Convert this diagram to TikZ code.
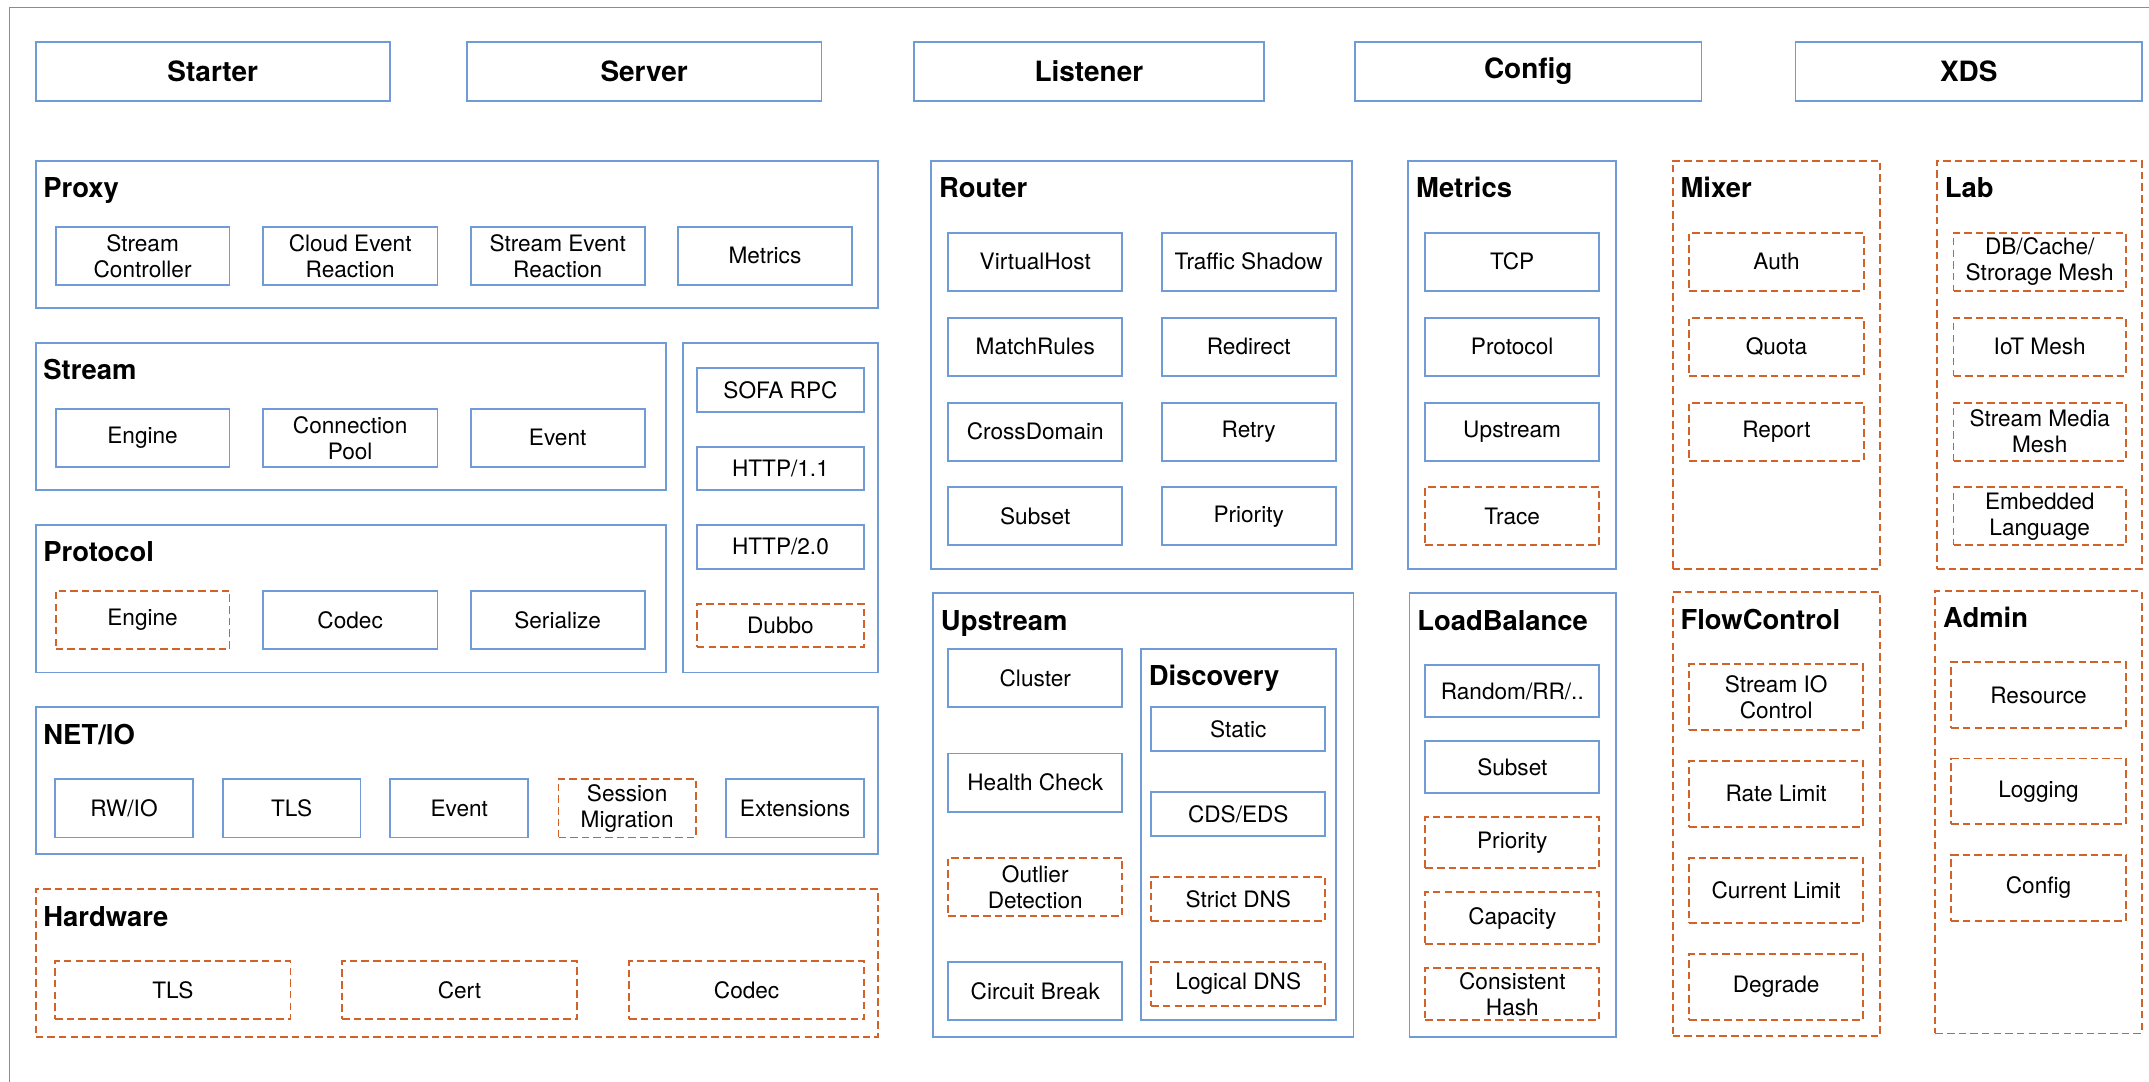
\documentclass[tikz,border=0pt]{standalone}
\usepackage{fontspec}
\setmainfont{TeX Gyre Heros}
\definecolor{boxblue}{HTML}{6F9BD6}
\definecolor{planorange}{HTML}{D0622A}
\definecolor{framegray}{HTML}{8C8C8C}
\tikzset{
  solidline/.style={draw=boxblue, line width=1.3pt},
  plannedline/.style={draw=planorange, line width=1.3pt, dash pattern=on 5.5pt off 3pt},
  cellbox/.style={solidline, inner sep=0pt, align=center,
    font=\fontsize{16.5}{19}\selectfont},
  planned/.style={plannedline},
  headbox/.style={cellbox, font=\fontsize{20.4}{24}\selectfont\bfseries},
  panelbox/.style={solidline, inner sep=0pt},
  paneltitle/.style={inner sep=0pt, anchor=base west,
    font=\fontsize{20}{24}\selectfont\bfseries},
}
% \cell[style]{name}{x1}{y1}{x2}{y2}{text}
\newcommand{\cell}[7][]{%
  \node[cellbox,#1,minimum width={(#5-#3)*1pt},minimum height={(#6-#4)*1pt}]
    (#2) at ({(#3+#5)/2},{(#4+#6)/2}) {#7};}
% \panel[style]{name}{x1}{y1}{x2}{y2}{title}
\newcommand{\panel}[7][]{%
  \node[panelbox,#1,minimum width={(#5-#3)*1pt},minimum height={(#6-#4)*1pt}]
    (#2) at ({(#3+#5)/2},{(#4+#6)/2}) {};
  \node[paneltitle] (#2-title) at ({#3+5.5},{#4+27}) {#7};}
\begin{document}
\begin{tikzpicture}[x=1pt,y=-1pt]
\useasboundingbox (0,0) rectangle (1568,789.4);
\fill[white] (0,0) rectangle (1568,789.4);
% page frame
\draw[framegray, line width=1pt] (7,789.4) -- (7,5.4) -- (1568,5.4);

% top row
\cell[headbox]{starter}{26}{30.9}{284.4}{73.5}{Starter}
\cell[headbox]{server}{340.5}{30.9}{599.4}{73.5}{Server}
\cell[headbox]{listener}{667}{30.9}{922}{73.5}{Listener}
\cell[headbox]{config}{988.7}{30.9}{1241.5}{73.5}{Config}
\cell[headbox]{xds}{1310}{30.9}{1563}{73.5}{XDS}

% Proxy
\panel{proxy}{26}{117.2}{640.8}{224.7}{Proxy}
\cell{px1}{40.6}{165.4}{167.5}{208}{Stream\\Controller}
\cell{px2}{191.8}{165.4}{319.2}{208}{Cloud Event\\Reaction}
\cell{px3}{343.4}{165.4}{470.4}{208}{Stream Event\\Reaction}
\cell{px4}{494.7}{165.4}{621.6}{208}{Metrics}

% Stream
\panel{stream}{26}{250}{485.9}{357.5}{Stream}
\cell{st1}{40.6}{298.2}{167.5}{340.7}{Engine}
\cell{st2}{191.8}{298.2}{319.2}{340.7}{Connection\\Pool}
\cell{st3}{343.4}{298.2}{470.4}{340.7}{Event}

% Protocol
\panel{protocol}{26}{383}{485.9}{490.6}{Protocol}
\cell[planned]{pr1}{40.6}{431}{167.5}{473.8}{Engine}
\cell{pr2}{191.8}{431}{319.2}{473.8}{Codec}
\cell{pr3}{343.4}{431}{470.4}{473.8}{Serialize}

% protocol implementations
\node[panelbox,minimum width=142.4pt,minimum height=240.6pt] (impl) at (569.6,370.3) {};
\cell{im1}{508.5}{268.7}{630.4}{300.6}{SOFA RPC}
\cell{im2}{508.5}{325.9}{630.4}{357.8}{HTTP/1.1}
\cell{im3}{508.5}{383}{630.4}{415}{HTTP/2.0}
\cell[planned]{im4}{508.5}{440.5}{630.4}{472.3}{Dubbo}

% NET/IO
\panel{netio}{26}{516}{640.8}{623.3}{NET/IO}
\cell{ni1}{40.2}{568.4}{140.7}{611}{RW/IO}
\cell{ni2}{162.5}{568.4}{263}{611}{TLS}
\cell{ni3}{284.8}{568.4}{385.4}{611}{Event}
\cell[planned]{ni4}{407.5}{568.4}{507.7}{611}{Session\\Migration}
\cell{ni5}{529.9}{568.4}{630.4}{611}{Extensions}

% Hardware
\panel[plannedline]{hardware}{26}{648.9}{640.8}{756.4}{Hardware}
\cell[planned]{hw1}{40.2}{701.4}{212}{743.7}{TLS}
\cell[planned]{hw2}{249.6}{701.4}{421}{743.7}{Cert}
\cell[planned]{hw3}{459.1}{701.4}{630.4}{743.7}{Codec}

% Router
\panel{router}{679.5}{117.2}{986.6}{415}{Router}
\cell{ro1}{691.8}{169.8}{818.9}{212.1}{VirtualHost}
\cell{ro2}{691.8}{231.8}{818.9}{274.1}{MatchRules}
\cell{ro3}{691.8}{293.8}{818.9}{336.1}{CrossDomain}
\cell{ro4}{691.8}{355.6}{818.9}{397.9}{Subset}
\cell{ro5}{847.6}{169.8}{974.6}{212.1}{Traffic Shadow}
\cell{ro6}{847.6}{231.8}{974.6}{274.1}{Redirect}
\cell{ro7}{847.6}{293.8}{974.6}{336.1}{Retry}
\cell{ro8}{847.6}{355.6}{974.6}{397.9}{Priority}

% Metrics
\panel{metrics}{1027.6}{117.2}{1178.9}{415}{Metrics}
\cell{me1}{1039.7}{169.8}{1166.9}{212.1}{TCP}
\cell{me2}{1039.7}{231.8}{1166.9}{274.1}{Protocol}
\cell{me3}{1039.7}{293.8}{1166.9}{336.1}{Upstream}
\cell[planned]{me4}{1039.7}{355.6}{1166.9}{397.9}{Trace}

% Mixer
\panel[plannedline]{mixer}{1220.5}{117.2}{1371.8}{415}{Mixer}
\cell[planned]{mx1}{1232.6}{169.8}{1359.8}{212.1}{Auth}
\cell[planned]{mx2}{1232.6}{231.8}{1359.8}{274.1}{Quota}
\cell[planned]{mx3}{1232.6}{293.8}{1359.8}{336.1}{Report}

% Lab
\panel[plannedline]{lab}{1413.4}{117.2}{1562.7}{415}{Lab}
\cell[planned]{lb1}{1425.4}{169.8}{1551.1}{212.1}{DB/Cache/\\Strorage Mesh}
\cell[planned]{lb2}{1425.4}{231.8}{1551.1}{274.1}{IoT Mesh}
\cell[planned]{lb3}{1425.4}{293.8}{1551.1}{336.1}{Stream Media\\Mesh}
\cell[planned]{lb4}{1425.4}{355.6}{1551.1}{397.9}{Embedded\\Language}

% Upstream
\panel{upstream}{680.8}{432.9}{987.6}{756.4}{Upstream}
\cell{up1}{691.8}{473.5}{818.9}{516.1}{Cluster}
\cell{up2}{691.8}{549.7}{818.9}{592.2}{Health Check}
\cell[planned]{up3}{691.8}{625.8}{818.9}{668.3}{Outlier\\Detection}
\cell{up4}{691.8}{701.9}{818.9}{744.5}{Circuit Break}

% Discovery
\panel{discovery}{832.5}{473.5}{974.6}{744.5}{Discovery}
\cell{ds1}{840}{516.1}{967}{548}{Static}
\cell{ds2}{840}{578.1}{967}{610}{CDS/EDS}
\cell[planned]{ds3}{840}{639.9}{967}{671.8}{Strict DNS}
\cell[planned]{ds4}{840}{701.9}{967}{733.8}{Logical DNS}

% LoadBalance
\panel{loadbalance}{1028.4}{432.9}{1179}{756.4}{LoadBalance}
\cell{lo1}{1040}{485.4}{1166.9}{523.1}{Random/RR/..}
\cell{lo2}{1040}{540.9}{1166.9}{578.6}{Subset}
\cell[planned]{lo3}{1040}{595.9}{1166.9}{633.5}{Priority}
\cell[planned]{lo4}{1040}{651.1}{1166.9}{688.8}{Capacity}
\cell[planned]{lo5}{1040}{706.3}{1166.9}{744.2}{Consistent\\Hash}

% FlowControl
\panel[plannedline]{flowcontrol}{1220.5}{432.2}{1371.8}{756}{FlowControl}
\cell[planned]{fc1}{1232.6}{484.7}{1359.3}{532.6}{Stream IO\\Control}
\cell[planned]{fc2}{1232.6}{555}{1359.3}{603.2}{Rate Limit}
\cell[planned]{fc3}{1232.6}{625.8}{1359.3}{673.7}{Current Limit}
\cell[planned]{fc4}{1232.6}{696.1}{1359.3}{744.2}{Degrade}

% Admin
\panel[plannedline]{admin}{1412.1}{431}{1562.7}{754}{Admin}
\cell[planned]{ad1}{1423.7}{483.3}{1551.1}{530.9}{Resource}
\cell[planned]{ad2}{1423.7}{553.5}{1551.1}{601.5}{Logging}
\cell[planned]{ad3}{1423.7}{623.8}{1551.1}{671.8}{Config}
\end{tikzpicture}
\end{document}
